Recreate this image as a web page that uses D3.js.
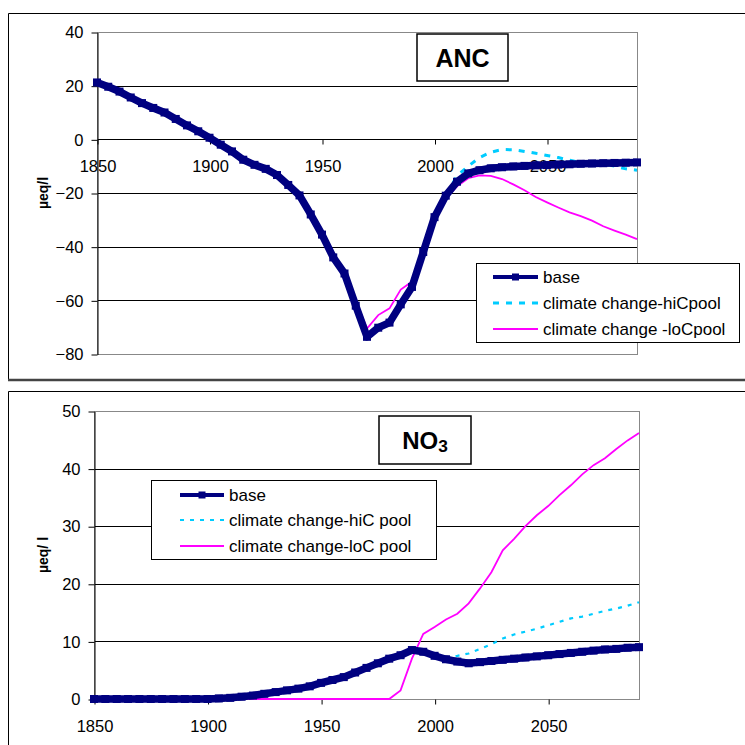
<!DOCTYPE html>
<html>
<head>
<meta charset="utf-8">
<script src="https://cdn.jsdelivr.net/npm/d3@7"></script>
<style>
  body { margin: 0; background: #fff; }
  svg { display: block; font-family: Arial, "Liberation Sans", sans-serif; }
</style>
</head>
<body>
<svg id="chart" width="745" height="745"></svg>
<script>
// years shared by both panels
const years = [1850, 1855, 1860, 1865, 1870, 1875, 1880, 1885, 1890, 1895,
  1900, 1905, 1910, 1915, 1920, 1925, 1930, 1935, 1940, 1945,
  1950, 1955, 1960, 1965, 1970, 1975, 1980, 1985, 1990, 1995,
  2000, 2005, 2010, 2015, 2020, 2025, 2030, 2035, 2040, 2045,
  2050, 2055, 2060, 2065, 2070, 2075, 2080, 2085, 2090]
const xTicks = [1850, 1900, 1950, 2000, 2050]

// ANC panel
const ancBase = [21.2, 19.6, 17.8, 15.6, 13.5, 11.7, 10.0, 7.6, 5.2, 3.0,
  0.6, -2.0, -4.5, -7.6, -9.5, -11.0, -13.3, -17.0, -20.9, -28.0,
  -35.5, -44.0, -50.0, -62.0, -73.6, -70.2, -68.3, -61.5, -55.0, -42.0,
  -29.0, -21.0, -15.8, -12.7, -11.5, -10.8, -10.4, -10.1, -9.9, -9.7,
  -9.6, -9.4, -9.3, -9.1, -9.0, -8.9, -8.8, -8.7, -8.6]
const ancHiC = [21.2, 19.6, 17.8, 15.6, 13.5, 11.7, 10.0, 7.6, 5.2, 3.0,
  0.6, -2.0, -4.5, -7.6, -9.5, -11.0, -13.3, -17.0, -20.9, -28.0,
  -35.5, -44.0, -50.0, -62.0, -73.6, -70.2, -68.3, -61.5, -55.0, -42.0,
  -29.0, -21.0, -13.6, -10.0, -6.8, -4.8, -3.8, -3.9, -4.5, -5.2,
  -6.0, -6.8, -7.8, -8.6, -9.0, -9.2, -10.0, -11.0, -11.5]
const ancLoC = [21.2, 19.6, 17.8, 15.6, 13.5, 11.7, 10.0, 7.6, 5.2, 3.0,
  0.6, -2.0, -4.5, -7.6, -9.5, -11.0, -13.3, -17.0, -20.9, -28.0,
  -35.5, -44.0, -50.0, -60.0, -70.5, -65.5, -63.0, -56.0, -53.0, -44.0,
  -31.0, -22.0, -17.5, -14.5, -13.4, -13.6, -14.8, -16.8, -19.0, -21.5,
  -23.5, -25.4, -27.2, -28.6, -30.3, -32.4, -34.0, -35.5, -37.2]
const ancTicks = [-80, -60, -40, -20, 0, 20, 40]
const ancLegend = ['base', 'climate change-hiCpool', 'climate change -loCpool']

// NO3 panel
const no3Base = [0, 0, 0, 0, 0, 0, 0, 0, 0, 0,
  0, 0.1, 0.2, 0.4, 0.6, 0.9, 1.2, 1.5, 1.8, 2.2,
  2.8, 3.3, 3.8, 4.6, 5.4, 6.2, 7.0, 7.6, 8.5, 8.2,
  7.5, 6.9, 6.5, 6.2, 6.4, 6.6, 6.8, 7.0, 7.2, 7.4,
  7.6, 7.8, 8.0, 8.2, 8.4, 8.6, 8.7, 8.9, 9.0]
const no3HiC = [0, 0, 0, 0, 0, 0, 0, 0, 0, 0,
  0, 0.1, 0.2, 0.4, 0.6, 0.9, 1.2, 1.5, 1.8, 2.2,
  2.8, 3.3, 3.8, 4.6, 5.4, 6.2, 7.0, 7.6, 8.5, 8.2,
  7.5, 7.2, 7.5, 7.9, 8.7, 9.5, 10.5, 11.2, 11.7, 12.2,
  12.8, 13.4, 14.0, 14.3, 14.8, 15.3, 15.7, 16.2, 16.8]
const no3LoC = [0, 0, 0, 0, 0, 0, 0, 0, 0, 0,
  0, 0, 0, 0, 0, 0, 0, 0, 0, 0,
  0, 0, 0, 0, 0, 0, 0, 1.5, 7.0, 11.3,
  12.5, 13.8, 14.8, 16.6, 19.2, 22.0, 25.8, 27.8, 30.0, 31.9,
  33.5, 35.4, 37.1, 39.0, 40.6, 41.8, 43.4, 44.9, 46.2]
const no3Ticks = [0, 10, 20, 30, 40, 50]
const no3Legend = ['base', 'climate change-hiC pool', 'climate change-loC pool']

const NAVY = '#000080', CYAN = '#00ccff', MAGENTA = '#ff00ff'

const svg = d3.select('#chart')

// panel frames
svg.append('path')
  .attr('d', 'M745,13.5H8.5V380')
  .attr('fill', 'none').attr('stroke', '#000')
svg.append('line')
  .attr('x1', 8).attr('x2', 745).attr('y1', 380).attr('y2', 380)
  .attr('stroke', '#444').attr('stroke-width', 2.5)
svg.append('path')
  .attr('d', 'M745,391.5H8.5V745')
  .attr('fill', 'none').attr('stroke', '#000')

function drawPanel(cfg) {
  const x = d3.scaleLinear().domain([1850, 2090]).range([cfg.left, cfg.right])
  const y = d3.scaleLinear().domain(cfg.yDomain).range([cfg.bottom, cfg.top])
  const g = svg.append('g')
  const px = v => Math.round(v) + 0.5

  // horizontal gridlines
  g.append('g').selectAll('line')
    .data(cfg.yTicks)
    .join('line')
    .attr('x1', cfg.left).attr('x2', cfg.right)
    .attr('y1', d => px(y(d))).attr('y2', d => px(y(d)))
    .attr('stroke', '#000')

  // plot area border
  g.append('rect')
    .attr('x', px(cfg.left)).attr('y', px(cfg.top))
    .attr('width', Math.round(cfg.right - cfg.left)).attr('height', Math.round(cfg.bottom - cfg.top))
    .attr('fill', 'none').attr('stroke', '#888')

  // y axis
  const yAxis = g.append('g')
    .attr('transform', `translate(${px(cfg.left)},0.5)`)
    .call(d3.axisLeft(y).tickValues(cfg.yTicks).tickSize(6).tickPadding(8).tickSizeOuter(0))
  yAxis.selectAll('text').attr('font-size', 16.5).attr('font-family', 'Arial, "Liberation Sans", sans-serif')

  // x axis crossing at zero
  const xAxis = g.append('g')
    .attr('transform', `translate(0.5,${px(y(0))})`)
    .call(d3.axisBottom(x).tickValues(cfg.xTicks).tickFormat(d3.format('d')).tickSize(5).tickPadding(16).tickSizeOuter(0))
  xAxis.select('.domain').remove()
  xAxis.selectAll('text').attr('font-size', 16.5).attr('font-family', 'Arial, "Liberation Sans", sans-serif')

  // y axis title
  g.append('text')
    .attr('transform', `translate(${cfg.yTitleX},${(cfg.top + cfg.bottom) / 2}) rotate(-90)`)
    .attr('text-anchor', 'middle').attr('dominant-baseline', 'central')
    .attr('font-size', 14).attr('font-weight', 'bold')
    .text(cfg.yTitle)

  // series, base drawn last
  const line = d3.line().x((d, i) => x(years[i])).y(d => y(d))
  const plot = g.append('g')
  plot.append('path').datum(cfg.loC).attr('d', line)
    .attr('fill', 'none').attr('stroke', MAGENTA).attr('stroke-width', 1.8)
  plot.append('path').datum(cfg.hiC).attr('d', line)
    .attr('fill', 'none').attr('stroke', CYAN).attr('stroke-width', cfg.hiWidth)
    .attr('stroke-dasharray', cfg.hiDash)
  plot.append('path').datum(cfg.base).attr('d', line)
    .attr('fill', 'none').attr('stroke', NAVY).attr('stroke-width', 7.5)
    .attr('stroke-linejoin', 'round')
  plot.selectAll('rect.mk')
    .data(cfg.base)
    .join('rect')
    .attr('class', 'mk')
    .attr('x', (d, i) => x(years[i]) - 4).attr('y', d => y(d) - 4)
    .attr('width', 8).attr('height', 8)
    .attr('fill', NAVY)

  // legend
  const lg = cfg.legend
  const leg = g.append('g')
  leg.append('rect')
    .attr('x', lg.x + 0.5).attr('y', lg.y + 0.5).attr('width', lg.w).attr('height', lg.h)
    .attr('fill', '#fff').attr('stroke', '#000')
  const styles = [
    { color: NAVY, width: 4, dash: null, marker: true },
    { color: CYAN, width: cfg.hiWidth, dash: cfg.hiDash, marker: false },
    { color: MAGENTA, width: 2, dash: null, marker: false }
  ]
  cfg.labels.forEach((label, i) => {
    const yy = lg.rows[i]
    leg.append('line')
      .attr('x1', lg.lineX0).attr('x2', lg.lineX1).attr('y1', yy).attr('y2', yy)
      .attr('stroke', styles[i].color).attr('stroke-width', styles[i].width)
      .attr('stroke-dasharray', styles[i].dash)
    if (styles[i].marker) {
      leg.append('rect')
        .attr('x', (lg.lineX0 + lg.lineX1) / 2 - 3.5).attr('y', yy - 3.5)
        .attr('width', 7).attr('height', 7).attr('fill', NAVY)
    }
    leg.append('text')
      .attr('x', lg.lineX1 + 5).attr('y', yy)
      .attr('dominant-baseline', 'central')
      .attr('font-size', 17)
      .text(label)
  })

  // title box
  const tb = cfg.titleBox
  g.append('rect')
    .attr('x', tb.x).attr('y', tb.y).attr('width', tb.w).attr('height', tb.h)
    .attr('fill', '#fff').attr('stroke', '#000').attr('stroke-width', 1.5)
  const t = g.append('text')
    .attr('x', tb.x + tb.w / 2).attr('y', tb.y + tb.h / 2)
    .attr('text-anchor', 'middle').attr('dominant-baseline', 'central')
    .attr('font-size', tb.size).attr('font-weight', 'bold')
    .text(tb.text)
  if (tb.sub) {
    t.append('tspan').attr('font-size', tb.size * 0.72).attr('dy', 6).text(tb.sub)
  }
}

drawPanel({
  left: 97, right: 637, top: 32, bottom: 354,
  yDomain: [-80, 40], yTicks: ancTicks, xTicks: xTicks,
  yTitle: 'µeq/l', yTitleX: 43,
  base: ancBase, hiC: ancHiC, loC: ancLoC,
  hiWidth: 3, hiDash: '6,7',
  labels: ancLegend,
  legend: { x: 476, y: 263, w: 263, h: 79, rows: [277, 303, 329], lineX0: 493, lineX1: 538 },
  titleBox: { x: 417, y: 34, w: 91, h: 47, text: 'ANC', size: 25 }
})

drawPanel({
  left: 94, right: 639, top: 411, bottom: 699,
  yDomain: [0, 50], yTicks: no3Ticks, xTicks: xTicks,
  yTitle: 'µeq/ l', yTitleX: 43,
  base: no3Base, hiC: no3HiC, loC: no3LoC,
  hiWidth: 2.2, hiDash: '4,6',
  labels: no3Legend,
  legend: { x: 151, y: 480, w: 285, h: 79, rows: [495, 520, 546], lineX0: 180, lineX1: 224 },
  titleBox: { x: 379, y: 416, w: 92, h: 48, text: 'NO', sub: '3', size: 24 }
})
</script>
</body>
</html>
